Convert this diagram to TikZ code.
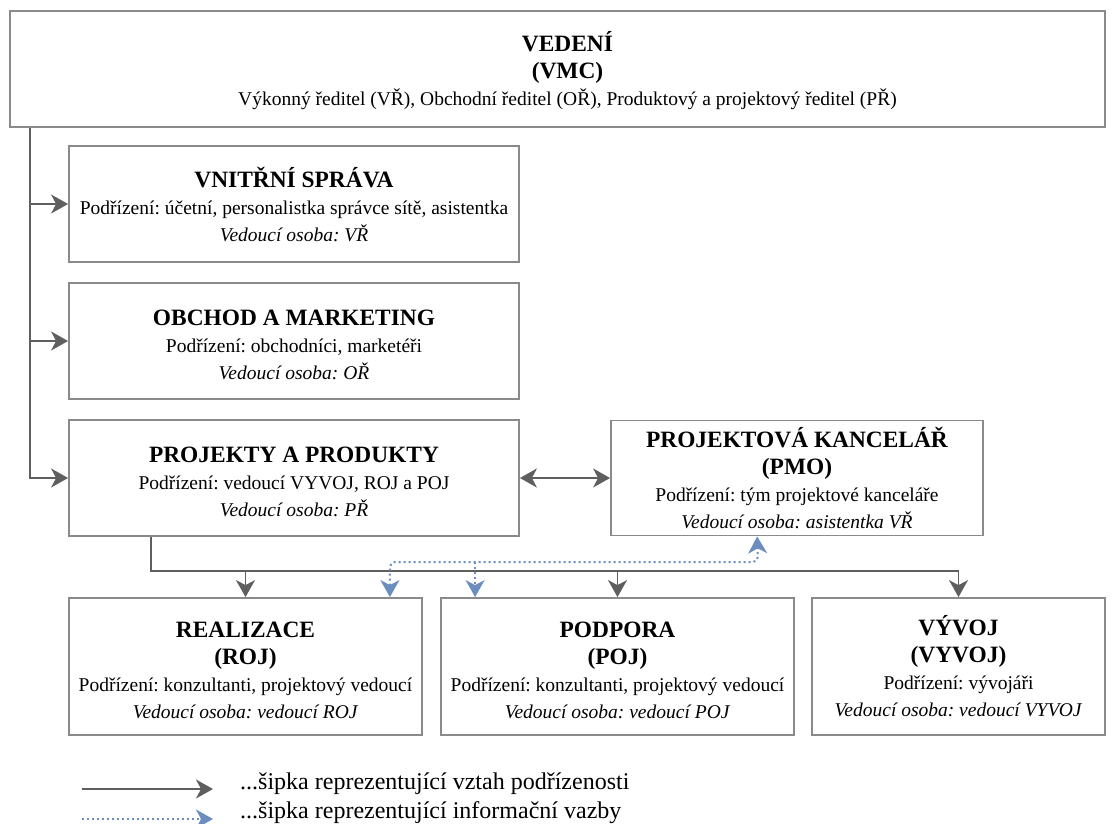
\documentclass[tikz,border=0pt]{standalone}
\usepackage{fontspec}
\setmainfont{Liberation Serif}
\usetikzlibrary{arrows.meta}

\definecolor{boxline}{HTML}{8A8A8A}
\definecolor{linkgray}{HTML}{5F5F5F}
\definecolor{infoblue}{HTML}{6C8EBF}

% text sizes for the unit boxes and the key
\newcommand\boxbody{\frenchspacing\fontsize{19.5}{27}\selectfont}
\newcommand\boxhead{\fontsize{23.4}{27}\selectfont\bfseries}
\newcommand\keyfont{\frenchspacing\fontsize{24}{29}\selectfont}
\newcommand\nudge{\hspace*{20pt}}

\begin{document}
\begin{tikzpicture}[x=1pt,y=-1pt,
  unit/.style={draw=boxline, line width=1.8pt, fill=white, inner sep=0pt,
               align=center, font=\boxbody},
  link/.style={draw=linkgray, line width=1.8pt, -{Stealth[length=17pt,width=19pt,inset=5pt]}},
  info/.style={draw=infoblue, line width=2pt, dash pattern=on 2pt off 3pt,
               -{Stealth[length=17pt,width=19pt,inset=5pt]}},
  keytext/.style={anchor=base west, font=\keyfont, inner sep=0pt}
]
\useasboundingbox (0,0) rectangle (1112,823);

% management
\node[unit, minimum width=1095pt, minimum height=116pt] (top) at (557.5,69)
  {\rule{0pt}{24pt}\nudge{\boxhead VEDENÍ}\\\nudge{\boxhead (VMC)}\\\nudge Výkonný ředitel (VŘ), Obchodní ředitel (OŘ), Produktový a projektový ředitel (PŘ)};

% departments
\node[unit, minimum width=450pt, minimum height=116pt] (vs) at (294,204)
  {{\boxhead VNITŘNÍ SPRÁVA}\\Podřízení: účetní, personalistka správce sítě, asistentka\\\textit{Vedoucí osoba: VŘ}};
\node[unit, minimum width=450pt, minimum height=116pt] (om) at (294,341)
  {\rule{0pt}{24pt}{\boxhead OBCHOD A MARKETING}\\Podřízení: obchodníci, marketéři\\\textit{Vedoucí osoba: OŘ}};
\node[unit, minimum width=450pt, minimum height=116pt] (pp) at (294,478)
  {\rule{0pt}{24pt}{\boxhead PROJEKTY A PRODUKTY}\\Podřízení: vedoucí VYVOJ, ROJ a POJ\\\textit{Vedoucí osoba: PŘ}};
\node[unit, minimum width=372pt, minimum height=115pt] (pmo) at (797,478)
  {{\boxhead PROJEKTOVÁ KANCELÁŘ}\\{\boxhead (PMO)}\\Podřízení: tým projektové kanceláře\\\textit{Vedoucí osoba: asistentka VŘ}};

% teams
\node[unit, minimum width=353pt, minimum height=137pt] (roj) at (245.5,666.5)
  {\rule{0pt}{24pt}{\boxhead REALIZACE}\\{\boxhead (ROJ)}\\Podřízení: konzultanti, projektový vedoucí\\\textit{Vedoucí osoba: vedoucí ROJ}};
\node[unit, minimum width=353pt, minimum height=137pt] (poj) at (617.5,666.5)
  {\rule{0pt}{24pt}{\boxhead PODPORA}\\{\boxhead (POJ)}\\Podřízení: konzultanti, projektový vedoucí\\\textit{Vedoucí osoba: vedoucí POJ}};
\node[unit, minimum width=293pt, minimum height=137pt] (vyvoj) at (958.5,666.5)
  {{\boxhead VÝVOJ}\\{\boxhead (VYVOJ)}\\Podřízení: vývojáři\\\textit{Vedoucí osoba: vedoucí VYVOJ}};

% reporting lines from management
\coordinate (trunk) at ([xshift=21pt]top.south west);
\draw[link] (trunk) |- (vs.west);
\draw[link] (trunk) |- (om.west);
\draw[link] (trunk) |- (pp.west);

\draw[link, {Stealth[length=17pt,width=19pt,inset=5pt]}-{Stealth[length=17pt,width=19pt,inset=5pt]}]
  (pp.east) -- (pmo.west);

% reporting lines to the teams
\coordinate (ppout) at ([xshift=83pt]pp.south west);
\coordinate (bus) at (152,571);
\draw[link] (ppout) |- (bus -| vyvoj.north) -- (vyvoj.north);
\draw[link] (bus -| roj.north) -- (roj.north);
\draw[link] (bus -| poj.north) -- (poj.north);

% information links with the project office
\coordinate (pmoin) at ([xshift=147pt]pmo.south west);
\coordinate (rojin) at ([xshift=-33pt]roj.north east);
\coordinate (pojin) at ([xshift=35pt]poj.north west);
\coordinate (infoturn) at (758,562);
\draw[info, rounded corners=5pt,
      {Stealth[length=17pt,width=19pt,inset=5pt]}-{Stealth[length=17pt,width=19pt,inset=5pt]}]
  (rojin) |- (infoturn) -- (pmoin);
\draw[info] (pojin |- infoturn) -- (pojin);

% key
\coordinate (keyA1) at (82,789);
\coordinate (keyA2) at (213,789);
\coordinate (keyB1) at (82,819);
\coordinate (keyB2) at (213,819);
\draw[link] (keyA1) -- (keyA2);
\draw[info] (keyB1) -- (keyB2);
\node[keytext] (keyA) at (240,789) {...šipka reprezentující vztah podřízenosti};
\node[keytext] (keyB) at (240,818) {...šipka reprezentující informační vazby};
\end{tikzpicture}
\end{document}
